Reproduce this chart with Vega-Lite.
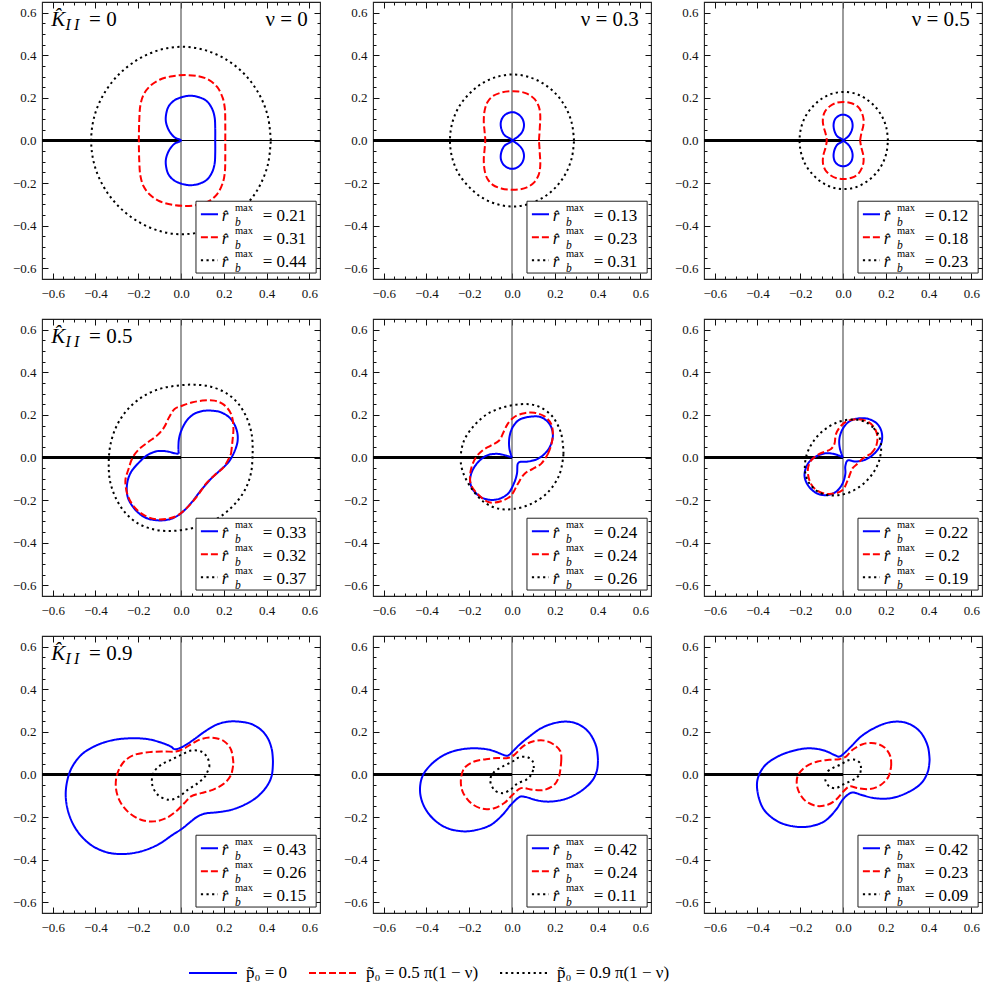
{
  "$schema": "https://vega.github.io/schema/vega-lite/v6.json",
  "padding": {"left": 11, "top": 0, "right": 5, "bottom": 5},
  "background": "white",
  "config": {
    "font": "Liberation Serif, serif",
    "view": {"stroke": "#222", "strokeWidth": 1.1},
    "axis": {"grid": false, "domain": false, "tickColor": "#111", "tickWidth": 1, "labelColor": "#111", "labelFontSize": 13, "labelFont": "Liberation Serif, serif"},
    "legend": {"labelFont": "Liberation Serif, serif"},
    "text": {"font": "Liberation Serif, serif"}
  },
  "data": {"values": [
    {"k":0,"n":0,"s":"a","o":0,"x":0.16,"y":0},{"k":0,"n":0,"s":"a","o":1,"x":0.16,"y":0.06},{"k":0,"n":0,"s":"a","o":2,"x":0.157,"y":0.11},{"k":0,"n":0,"s":"a","o":3,"x":0.145,"y":0.15},{"k":0,"n":0,"s":"a","o":4,"x":0.12,"y":0.185},{"k":0,"n":0,"s":"a","o":5,"x":0.085,"y":0.203},{"k":0,"n":0,"s":"a","o":6,"x":0.045,"y":0.21},{"k":0,"n":0,"s":"a","o":7,"x":0.01,"y":0.205},{"k":0,"n":0,"s":"a","o":8,"x":-0.03,"y":0.189},{"k":0,"n":0,"s":"a","o":9,"x":-0.058,"y":0.16},{"k":0,"n":0,"s":"a","o":10,"x":-0.07,"y":0.12},{"k":0,"n":0,"s":"a","o":11,"x":-0.07,"y":0.085},{"k":0,"n":0,"s":"a","o":12,"x":-0.055,"y":0.045},{"k":0,"n":0,"s":"a","o":13,"x":-0.03,"y":0.015},{"k":0,"n":0,"s":"a","o":14,"x":0,"y":0},{"k":0,"n":0,"s":"a","o":15,"x":-0.03,"y":-0.015},{"k":0,"n":0,"s":"a","o":16,"x":-0.055,"y":-0.045},{"k":0,"n":0,"s":"a","o":17,"x":-0.07,"y":-0.085},{"k":0,"n":0,"s":"a","o":18,"x":-0.07,"y":-0.12},{"k":0,"n":0,"s":"a","o":19,"x":-0.058,"y":-0.16},{"k":0,"n":0,"s":"a","o":20,"x":-0.03,"y":-0.189},{"k":0,"n":0,"s":"a","o":21,"x":0.01,"y":-0.205},{"k":0,"n":0,"s":"a","o":22,"x":0.045,"y":-0.21},{"k":0,"n":0,"s":"a","o":23,"x":0.085,"y":-0.203},{"k":0,"n":0,"s":"a","o":24,"x":0.12,"y":-0.185},{"k":0,"n":0,"s":"a","o":25,"x":0.145,"y":-0.15},{"k":0,"n":0,"s":"a","o":26,"x":0.157,"y":-0.11},{"k":0,"n":0,"s":"a","o":27,"x":0.16,"y":-0.06},{"k":0,"n":0,"s":"a","o":28,"x":0.16,"y":0},
    {"k":0,"n":0,"s":"b","o":0,"x":0.207,"y":0},{"k":0,"n":0,"s":"b","o":1,"x":0.207,"y":0.08},{"k":0,"n":0,"s":"b","o":2,"x":0.205,"y":0.15},{"k":0,"n":0,"s":"b","o":3,"x":0.195,"y":0.2},{"k":0,"n":0,"s":"b","o":4,"x":0.17,"y":0.25},{"k":0,"n":0,"s":"b","o":5,"x":0.13,"y":0.285},{"k":0,"n":0,"s":"b","o":6,"x":0.08,"y":0.302},{"k":0,"n":0,"s":"b","o":7,"x":0.02,"y":0.307},{"k":0,"n":0,"s":"b","o":8,"x":-0.04,"y":0.302},{"k":0,"n":0,"s":"b","o":9,"x":-0.1,"y":0.285},{"k":0,"n":0,"s":"b","o":10,"x":-0.145,"y":0.255},{"k":0,"n":0,"s":"b","o":11,"x":-0.175,"y":0.215},{"k":0,"n":0,"s":"b","o":12,"x":-0.19,"y":0.165},{"k":0,"n":0,"s":"b","o":13,"x":-0.195,"y":0.1},{"k":0,"n":0,"s":"b","o":14,"x":-0.197,"y":0},{"k":0,"n":0,"s":"b","o":15,"x":-0.195,"y":-0.1},{"k":0,"n":0,"s":"b","o":16,"x":-0.19,"y":-0.165},{"k":0,"n":0,"s":"b","o":17,"x":-0.175,"y":-0.215},{"k":0,"n":0,"s":"b","o":18,"x":-0.145,"y":-0.255},{"k":0,"n":0,"s":"b","o":19,"x":-0.1,"y":-0.285},{"k":0,"n":0,"s":"b","o":20,"x":-0.04,"y":-0.302},{"k":0,"n":0,"s":"b","o":21,"x":0.02,"y":-0.307},{"k":0,"n":0,"s":"b","o":22,"x":0.08,"y":-0.302},{"k":0,"n":0,"s":"b","o":23,"x":0.13,"y":-0.285},{"k":0,"n":0,"s":"b","o":24,"x":0.17,"y":-0.25},{"k":0,"n":0,"s":"b","o":25,"x":0.195,"y":-0.2},{"k":0,"n":0,"s":"b","o":26,"x":0.205,"y":-0.15},{"k":0,"n":0,"s":"b","o":27,"x":0.207,"y":-0.08},{"k":0,"n":0,"s":"b","o":28,"x":0.207,"y":0},
    {"k":0,"n":0,"s":"c","o":0,"x":0.42,"y":0},{"k":0,"n":0,"s":"c","o":1,"x":0.406,"y":0.114},{"k":0,"n":0,"s":"c","o":2,"x":0.364,"y":0.22},{"k":0,"n":0,"s":"c","o":3,"x":0.297,"y":0.311},{"k":0,"n":0,"s":"c","o":4,"x":0.21,"y":0.381},{"k":0,"n":0,"s":"c","o":5,"x":0.109,"y":0.425},{"k":0,"n":0,"s":"c","o":6,"x":0.005,"y":0.44},{"k":0,"n":0,"s":"c","o":7,"x":-0.1,"y":0.425},{"k":0,"n":0,"s":"c","o":8,"x":-0.2,"y":0.381},{"k":0,"n":0,"s":"c","o":9,"x":-0.29,"y":0.311},{"k":0,"n":0,"s":"c","o":10,"x":-0.36,"y":0.22},{"k":0,"n":0,"s":"c","o":11,"x":-0.405,"y":0.114},{"k":0,"n":0,"s":"c","o":12,"x":-0.42,"y":0},{"k":0,"n":0,"s":"c","o":13,"x":-0.405,"y":-0.114},{"k":0,"n":0,"s":"c","o":14,"x":-0.36,"y":-0.22},{"k":0,"n":0,"s":"c","o":15,"x":-0.29,"y":-0.311},{"k":0,"n":0,"s":"c","o":16,"x":-0.2,"y":-0.381},{"k":0,"n":0,"s":"c","o":17,"x":-0.1,"y":-0.425},{"k":0,"n":0,"s":"c","o":18,"x":0.005,"y":-0.44},{"k":0,"n":0,"s":"c","o":19,"x":0.109,"y":-0.425},{"k":0,"n":0,"s":"c","o":20,"x":0.21,"y":-0.381},{"k":0,"n":0,"s":"c","o":21,"x":0.297,"y":-0.311},{"k":0,"n":0,"s":"c","o":22,"x":0.364,"y":-0.22},{"k":0,"n":0,"s":"c","o":23,"x":0.406,"y":-0.114},{"k":0,"n":0,"s":"c","o":24,"x":0.42,"y":0},

    {"k":0,"n":0.3,"s":"a","o":0,"x":0,"y":0},{"k":0,"n":0.3,"s":"a","o":1,"x":0.03,"y":0.02},{"k":0,"n":0.3,"s":"a","o":2,"x":0.05,"y":0.045},{"k":0,"n":0.3,"s":"a","o":3,"x":0.056,"y":0.075},{"k":0,"n":0.3,"s":"a","o":4,"x":0.048,"y":0.103},{"k":0,"n":0.3,"s":"a","o":5,"x":0.03,"y":0.123},{"k":0,"n":0.3,"s":"a","o":6,"x":0.005,"y":0.133},{"k":0,"n":0.3,"s":"a","o":7,"x":-0.02,"y":0.128},{"k":0,"n":0.3,"s":"a","o":8,"x":-0.04,"y":0.113},{"k":0,"n":0.3,"s":"a","o":9,"x":-0.052,"y":0.087},{"k":0,"n":0.3,"s":"a","o":10,"x":-0.05,"y":0.055},{"k":0,"n":0.3,"s":"a","o":11,"x":-0.035,"y":0.025},{"k":0,"n":0.3,"s":"a","o":12,"x":0,"y":0},{"k":0,"n":0.3,"s":"a","o":13,"x":-0.035,"y":-0.025},{"k":0,"n":0.3,"s":"a","o":14,"x":-0.05,"y":-0.055},{"k":0,"n":0.3,"s":"a","o":15,"x":-0.052,"y":-0.087},{"k":0,"n":0.3,"s":"a","o":16,"x":-0.04,"y":-0.113},{"k":0,"n":0.3,"s":"a","o":17,"x":-0.02,"y":-0.128},{"k":0,"n":0.3,"s":"a","o":18,"x":0.005,"y":-0.133},{"k":0,"n":0.3,"s":"a","o":19,"x":0.03,"y":-0.123},{"k":0,"n":0.3,"s":"a","o":20,"x":0.048,"y":-0.103},{"k":0,"n":0.3,"s":"a","o":21,"x":0.056,"y":-0.075},{"k":0,"n":0.3,"s":"a","o":22,"x":0.05,"y":-0.045},{"k":0,"n":0.3,"s":"a","o":23,"x":0.03,"y":-0.02},{"k":0,"n":0.3,"s":"a","o":24,"x":0,"y":0},
    {"k":0,"n":0.3,"s":"b","o":0,"x":0.126,"y":0},{"k":0,"n":0.3,"s":"b","o":1,"x":0.13,"y":0.06},{"k":0,"n":0.3,"s":"b","o":2,"x":0.132,"y":0.12},{"k":0,"n":0.3,"s":"b","o":3,"x":0.125,"y":0.16},{"k":0,"n":0.3,"s":"b","o":4,"x":0.105,"y":0.195},{"k":0,"n":0.3,"s":"b","o":5,"x":0.07,"y":0.22},{"k":0,"n":0.3,"s":"b","o":6,"x":0.03,"y":0.23},{"k":0,"n":0.3,"s":"b","o":7,"x":-0.01,"y":0.231},{"k":0,"n":0.3,"s":"b","o":8,"x":-0.05,"y":0.225},{"k":0,"n":0.3,"s":"b","o":9,"x":-0.09,"y":0.208},{"k":0,"n":0.3,"s":"b","o":10,"x":-0.115,"y":0.18},{"k":0,"n":0.3,"s":"b","o":11,"x":-0.128,"y":0.14},{"k":0,"n":0.3,"s":"b","o":12,"x":-0.132,"y":0.09},{"k":0,"n":0.3,"s":"b","o":13,"x":-0.128,"y":0.04},{"k":0,"n":0.3,"s":"b","o":14,"x":-0.125,"y":0},{"k":0,"n":0.3,"s":"b","o":15,"x":-0.128,"y":-0.04},{"k":0,"n":0.3,"s":"b","o":16,"x":-0.132,"y":-0.09},{"k":0,"n":0.3,"s":"b","o":17,"x":-0.128,"y":-0.14},{"k":0,"n":0.3,"s":"b","o":18,"x":-0.115,"y":-0.18},{"k":0,"n":0.3,"s":"b","o":19,"x":-0.09,"y":-0.208},{"k":0,"n":0.3,"s":"b","o":20,"x":-0.05,"y":-0.225},{"k":0,"n":0.3,"s":"b","o":21,"x":-0.01,"y":-0.231},{"k":0,"n":0.3,"s":"b","o":22,"x":0.03,"y":-0.23},{"k":0,"n":0.3,"s":"b","o":23,"x":0.07,"y":-0.22},{"k":0,"n":0.3,"s":"b","o":24,"x":0.105,"y":-0.195},{"k":0,"n":0.3,"s":"b","o":25,"x":0.125,"y":-0.16},{"k":0,"n":0.3,"s":"b","o":26,"x":0.132,"y":-0.12},{"k":0,"n":0.3,"s":"b","o":27,"x":0.13,"y":-0.06},{"k":0,"n":0.3,"s":"b","o":28,"x":0.126,"y":0},
    {"k":0,"n":0.3,"s":"c","o":0,"x":0.29,"y":0},{"k":0,"n":0.3,"s":"c","o":1,"x":0.28,"y":0.08},{"k":0,"n":0.3,"s":"c","o":2,"x":0.251,"y":0.155},{"k":0,"n":0.3,"s":"c","o":3,"x":0.205,"y":0.219},{"k":0,"n":0.3,"s":"c","o":4,"x":0.145,"y":0.268},{"k":0,"n":0.3,"s":"c","o":5,"x":0.075,"y":0.299},{"k":0,"n":0.3,"s":"c","o":6,"x":0.005,"y":0.31},{"k":0,"n":0.3,"s":"c","o":7,"x":-0.07,"y":0.299},{"k":0,"n":0.3,"s":"c","o":8,"x":-0.14,"y":0.268},{"k":0,"n":0.3,"s":"c","o":9,"x":-0.2,"y":0.219},{"k":0,"n":0.3,"s":"c","o":10,"x":-0.25,"y":0.155},{"k":0,"n":0.3,"s":"c","o":11,"x":-0.28,"y":0.08},{"k":0,"n":0.3,"s":"c","o":12,"x":-0.29,"y":0},{"k":0,"n":0.3,"s":"c","o":13,"x":-0.28,"y":-0.08},{"k":0,"n":0.3,"s":"c","o":14,"x":-0.25,"y":-0.155},{"k":0,"n":0.3,"s":"c","o":15,"x":-0.2,"y":-0.219},{"k":0,"n":0.3,"s":"c","o":16,"x":-0.14,"y":-0.268},{"k":0,"n":0.3,"s":"c","o":17,"x":-0.07,"y":-0.299},{"k":0,"n":0.3,"s":"c","o":18,"x":0.005,"y":-0.31},{"k":0,"n":0.3,"s":"c","o":19,"x":0.075,"y":-0.299},{"k":0,"n":0.3,"s":"c","o":20,"x":0.145,"y":-0.268},{"k":0,"n":0.3,"s":"c","o":21,"x":0.205,"y":-0.219},{"k":0,"n":0.3,"s":"c","o":22,"x":0.251,"y":-0.155},{"k":0,"n":0.3,"s":"c","o":23,"x":0.28,"y":-0.08},{"k":0,"n":0.3,"s":"c","o":24,"x":0.29,"y":0},

    {"k":0,"n":0.5,"s":"a","o":0,"x":0,"y":0},{"k":0,"n":0.5,"s":"a","o":1,"x":0.025,"y":0.02},{"k":0,"n":0.5,"s":"a","o":2,"x":0.04,"y":0.045},{"k":0,"n":0.5,"s":"a","o":3,"x":0.045,"y":0.07},{"k":0,"n":0.5,"s":"a","o":4,"x":0.04,"y":0.095},{"k":0,"n":0.5,"s":"a","o":5,"x":0.025,"y":0.113},{"k":0,"n":0.5,"s":"a","o":6,"x":0.003,"y":0.121},{"k":0,"n":0.5,"s":"a","o":7,"x":-0.02,"y":0.116},{"k":0,"n":0.5,"s":"a","o":8,"x":-0.037,"y":0.1},{"k":0,"n":0.5,"s":"a","o":9,"x":-0.044,"y":0.075},{"k":0,"n":0.5,"s":"a","o":10,"x":-0.04,"y":0.045},{"k":0,"n":0.5,"s":"a","o":11,"x":-0.027,"y":0.02},{"k":0,"n":0.5,"s":"a","o":12,"x":0,"y":0},{"k":0,"n":0.5,"s":"a","o":13,"x":-0.027,"y":-0.02},{"k":0,"n":0.5,"s":"a","o":14,"x":-0.04,"y":-0.045},{"k":0,"n":0.5,"s":"a","o":15,"x":-0.044,"y":-0.075},{"k":0,"n":0.5,"s":"a","o":16,"x":-0.037,"y":-0.1},{"k":0,"n":0.5,"s":"a","o":17,"x":-0.02,"y":-0.116},{"k":0,"n":0.5,"s":"a","o":18,"x":0.003,"y":-0.121},{"k":0,"n":0.5,"s":"a","o":19,"x":0.025,"y":-0.113},{"k":0,"n":0.5,"s":"a","o":20,"x":0.04,"y":-0.095},{"k":0,"n":0.5,"s":"a","o":21,"x":0.045,"y":-0.07},{"k":0,"n":0.5,"s":"a","o":22,"x":0.04,"y":-0.045},{"k":0,"n":0.5,"s":"a","o":23,"x":0.025,"y":-0.02},{"k":0,"n":0.5,"s":"a","o":24,"x":0,"y":0},
    {"k":0,"n":0.5,"s":"b","o":0,"x":0.08,"y":0},{"k":0,"n":0.5,"s":"b","o":1,"x":0.085,"y":0.03},{"k":0,"n":0.5,"s":"b","o":2,"x":0.095,"y":0.07},{"k":0,"n":0.5,"s":"b","o":3,"x":0.096,"y":0.1},{"k":0,"n":0.5,"s":"b","o":4,"x":0.088,"y":0.13},{"k":0,"n":0.5,"s":"b","o":5,"x":0.07,"y":0.158},{"k":0,"n":0.5,"s":"b","o":6,"x":0.04,"y":0.175},{"k":0,"n":0.5,"s":"b","o":7,"x":0.005,"y":0.181},{"k":0,"n":0.5,"s":"b","o":8,"x":-0.03,"y":0.177},{"k":0,"n":0.5,"s":"b","o":9,"x":-0.06,"y":0.162},{"k":0,"n":0.5,"s":"b","o":10,"x":-0.083,"y":0.138},{"k":0,"n":0.5,"s":"b","o":11,"x":-0.094,"y":0.105},{"k":0,"n":0.5,"s":"b","o":12,"x":-0.092,"y":0.07},{"k":0,"n":0.5,"s":"b","o":13,"x":-0.082,"y":0.035},{"k":0,"n":0.5,"s":"b","o":14,"x":-0.076,"y":0},{"k":0,"n":0.5,"s":"b","o":15,"x":-0.082,"y":-0.035},{"k":0,"n":0.5,"s":"b","o":16,"x":-0.092,"y":-0.07},{"k":0,"n":0.5,"s":"b","o":17,"x":-0.094,"y":-0.105},{"k":0,"n":0.5,"s":"b","o":18,"x":-0.083,"y":-0.138},{"k":0,"n":0.5,"s":"b","o":19,"x":-0.06,"y":-0.162},{"k":0,"n":0.5,"s":"b","o":20,"x":-0.03,"y":-0.177},{"k":0,"n":0.5,"s":"b","o":21,"x":0.005,"y":-0.181},{"k":0,"n":0.5,"s":"b","o":22,"x":0.04,"y":-0.175},{"k":0,"n":0.5,"s":"b","o":23,"x":0.07,"y":-0.158},{"k":0,"n":0.5,"s":"b","o":24,"x":0.088,"y":-0.13},{"k":0,"n":0.5,"s":"b","o":25,"x":0.096,"y":-0.1},{"k":0,"n":0.5,"s":"b","o":26,"x":0.095,"y":-0.07},{"k":0,"n":0.5,"s":"b","o":27,"x":0.085,"y":-0.03},{"k":0,"n":0.5,"s":"b","o":28,"x":0.08,"y":0},
    {"k":0,"n":0.5,"s":"c","o":0,"x":0.21,"y":0},{"k":0,"n":0.5,"s":"c","o":1,"x":0.203,"y":0.059},{"k":0,"n":0.5,"s":"c","o":2,"x":0.182,"y":0.114},{"k":0,"n":0.5,"s":"c","o":3,"x":0.148,"y":0.161},{"k":0,"n":0.5,"s":"c","o":4,"x":0.105,"y":0.197},{"k":0,"n":0.5,"s":"c","o":5,"x":0.058,"y":0.22},{"k":0,"n":0.5,"s":"c","o":6,"x":0.005,"y":0.228},{"k":0,"n":0.5,"s":"c","o":7,"x":-0.05,"y":0.22},{"k":0,"n":0.5,"s":"c","o":8,"x":-0.098,"y":0.197},{"k":0,"n":0.5,"s":"c","o":9,"x":-0.14,"y":0.161},{"k":0,"n":0.5,"s":"c","o":10,"x":-0.175,"y":0.114},{"k":0,"n":0.5,"s":"c","o":11,"x":-0.196,"y":0.059},{"k":0,"n":0.5,"s":"c","o":12,"x":-0.203,"y":0},{"k":0,"n":0.5,"s":"c","o":13,"x":-0.196,"y":-0.059},{"k":0,"n":0.5,"s":"c","o":14,"x":-0.175,"y":-0.114},{"k":0,"n":0.5,"s":"c","o":15,"x":-0.14,"y":-0.161},{"k":0,"n":0.5,"s":"c","o":16,"x":-0.098,"y":-0.197},{"k":0,"n":0.5,"s":"c","o":17,"x":-0.05,"y":-0.22},{"k":0,"n":0.5,"s":"c","o":18,"x":0.005,"y":-0.228},{"k":0,"n":0.5,"s":"c","o":19,"x":0.058,"y":-0.22},{"k":0,"n":0.5,"s":"c","o":20,"x":0.105,"y":-0.197},{"k":0,"n":0.5,"s":"c","o":21,"x":0.148,"y":-0.161},{"k":0,"n":0.5,"s":"c","o":22,"x":0.182,"y":-0.114},{"k":0,"n":0.5,"s":"c","o":23,"x":0.203,"y":-0.059},{"k":0,"n":0.5,"s":"c","o":24,"x":0.21,"y":0},

    {"k":0.5,"n":0,"s":"a","o":0,"x":-0.011,"y":0.017},{"k":0.5,"n":0,"s":"a","o":1,"x":-0.012,"y":0.05},{"k":0.5,"n":0,"s":"a","o":2,"x":-0.009,"y":0.09},{"k":0.5,"n":0,"s":"a","o":3,"x":0.003,"y":0.13},{"k":0.5,"n":0,"s":"a","o":4,"x":0.028,"y":0.175},{"k":0.5,"n":0,"s":"a","o":5,"x":0.062,"y":0.205},{"k":0.5,"n":0,"s":"a","o":6,"x":0.1,"y":0.218},{"k":0.5,"n":0,"s":"a","o":7,"x":0.14,"y":0.22},{"k":0.5,"n":0,"s":"a","o":8,"x":0.187,"y":0.212},{"k":0.5,"n":0,"s":"a","o":9,"x":0.232,"y":0.182},{"k":0.5,"n":0,"s":"a","o":10,"x":0.26,"y":0.13},{"k":0.5,"n":0,"s":"a","o":11,"x":0.265,"y":0.08},{"k":0.5,"n":0,"s":"a","o":12,"x":0.25,"y":0.028},{"k":0.5,"n":0,"s":"a","o":13,"x":0.222,"y":-0.022},{"k":0.5,"n":0,"s":"a","o":14,"x":0.183,"y":-0.06},{"k":0.5,"n":0,"s":"a","o":15,"x":0.14,"y":-0.1},{"k":0.5,"n":0,"s":"a","o":16,"x":0.095,"y":-0.152},{"k":0.5,"n":0,"s":"a","o":17,"x":0.05,"y":-0.21},{"k":0.5,"n":0,"s":"a","o":18,"x":0,"y":-0.262},{"k":0.5,"n":0,"s":"a","o":19,"x":-0.047,"y":-0.288},{"k":0.5,"n":0,"s":"a","o":20,"x":-0.109,"y":-0.295},{"k":0.5,"n":0,"s":"a","o":21,"x":-0.171,"y":-0.28},{"k":0.5,"n":0,"s":"a","o":22,"x":-0.218,"y":-0.24},{"k":0.5,"n":0,"s":"a","o":23,"x":-0.249,"y":-0.186},{"k":0.5,"n":0,"s":"a","o":24,"x":-0.252,"y":-0.123},{"k":0.5,"n":0,"s":"a","o":25,"x":-0.234,"y":-0.069},{"k":0.5,"n":0,"s":"a","o":26,"x":-0.195,"y":-0.022},{"k":0.5,"n":0,"s":"a","o":27,"x":-0.156,"y":0.012},{"k":0.5,"n":0,"s":"a","o":28,"x":-0.109,"y":0.03},{"k":0.5,"n":0,"s":"a","o":29,"x":-0.062,"y":0.028},{"k":0.5,"n":0,"s":"a","o":30,"x":-0.03,"y":0.02},{"k":0.5,"n":0,"s":"a","o":31,"x":-0.011,"y":0.017},
    {"k":0.5,"n":0,"s":"b","o":0,"x":0.234,"y":0.017},{"k":0.5,"n":0,"s":"b","o":1,"x":0.241,"y":0.08},{"k":0.5,"n":0,"s":"b","o":2,"x":0.245,"y":0.142},{"k":0.5,"n":0,"s":"b","o":3,"x":0.234,"y":0.205},{"k":0.5,"n":0,"s":"b","o":4,"x":0.2,"y":0.248},{"k":0.5,"n":0,"s":"b","o":5,"x":0.156,"y":0.267},{"k":0.5,"n":0,"s":"b","o":6,"x":0.1,"y":0.267},{"k":0.5,"n":0,"s":"b","o":7,"x":0.05,"y":0.258},{"k":0.5,"n":0,"s":"b","o":8,"x":0.005,"y":0.243},{"k":0.5,"n":0,"s":"b","o":9,"x":-0.03,"y":0.228},{"k":0.5,"n":0,"s":"b","o":10,"x":-0.055,"y":0.19},{"k":0.5,"n":0,"s":"b","o":11,"x":-0.08,"y":0.14},{"k":0.5,"n":0,"s":"b","o":12,"x":-0.11,"y":0.105},{"k":0.5,"n":0,"s":"b","o":13,"x":-0.15,"y":0.075},{"k":0.5,"n":0,"s":"b","o":14,"x":-0.195,"y":0.04},{"k":0.5,"n":0,"s":"b","o":15,"x":-0.226,"y":0},{"k":0.5,"n":0,"s":"b","o":16,"x":-0.245,"y":-0.053},{"k":0.5,"n":0,"s":"b","o":17,"x":-0.26,"y":-0.108},{"k":0.5,"n":0,"s":"b","o":18,"x":-0.249,"y":-0.178},{"k":0.5,"n":0,"s":"b","o":19,"x":-0.218,"y":-0.233},{"k":0.5,"n":0,"s":"b","o":20,"x":-0.171,"y":-0.272},{"k":0.5,"n":0,"s":"b","o":21,"x":-0.117,"y":-0.29},{"k":0.5,"n":0,"s":"b","o":22,"x":-0.062,"y":-0.2875},{"k":0.5,"n":0,"s":"b","o":23,"x":-0.016,"y":-0.272},{"k":0.5,"n":0,"s":"b","o":24,"x":0.031,"y":-0.233},{"k":0.5,"n":0,"s":"b","o":25,"x":0.078,"y":-0.178},{"k":0.5,"n":0,"s":"b","o":26,"x":0.117,"y":-0.123},{"k":0.5,"n":0,"s":"b","o":27,"x":0.156,"y":-0.084},{"k":0.5,"n":0,"s":"b","o":28,"x":0.2,"y":-0.045},{"k":0.5,"n":0,"s":"b","o":29,"x":0.234,"y":0.017},
    {"k":0.5,"n":0,"s":"c","o":0,"x":0.335,"y":0.02},{"k":0.5,"n":0,"s":"c","o":1,"x":0.332,"y":0.1},{"k":0.5,"n":0,"s":"c","o":2,"x":0.31,"y":0.18},{"k":0.5,"n":0,"s":"c","o":3,"x":0.27,"y":0.25},{"k":0.5,"n":0,"s":"c","o":4,"x":0.215,"y":0.3},{"k":0.5,"n":0,"s":"c","o":5,"x":0.14,"y":0.332},{"k":0.5,"n":0,"s":"c","o":6,"x":0.06,"y":0.342},{"k":0.5,"n":0,"s":"c","o":7,"x":-0.02,"y":0.337},{"k":0.5,"n":0,"s":"c","o":8,"x":-0.1,"y":0.322},{"k":0.5,"n":0,"s":"c","o":9,"x":-0.18,"y":0.285},{"k":0.5,"n":0,"s":"c","o":10,"x":-0.25,"y":0.225},{"k":0.5,"n":0,"s":"c","o":11,"x":-0.3,"y":0.15},{"k":0.5,"n":0,"s":"c","o":12,"x":-0.33,"y":0.06},{"k":0.5,"n":0,"s":"c","o":13,"x":-0.338,"y":-0.03},{"k":0.5,"n":0,"s":"c","o":14,"x":-0.332,"y":-0.11},{"k":0.5,"n":0,"s":"c","o":15,"x":-0.305,"y":-0.19},{"k":0.5,"n":0,"s":"c","o":16,"x":-0.26,"y":-0.26},{"k":0.5,"n":0,"s":"c","o":17,"x":-0.2,"y":-0.31},{"k":0.5,"n":0,"s":"c","o":18,"x":-0.13,"y":-0.337},{"k":0.5,"n":0,"s":"c","o":19,"x":-0.055,"y":-0.345},{"k":0.5,"n":0,"s":"c","o":20,"x":0.02,"y":-0.338},{"k":0.5,"n":0,"s":"c","o":21,"x":0.1,"y":-0.318},{"k":0.5,"n":0,"s":"c","o":22,"x":0.18,"y":-0.28},{"k":0.5,"n":0,"s":"c","o":23,"x":0.25,"y":-0.22},{"k":0.5,"n":0,"s":"c","o":24,"x":0.3,"y":-0.15},{"k":0.5,"n":0,"s":"c","o":25,"x":0.328,"y":-0.07},{"k":0.5,"n":0,"s":"c","o":26,"x":0.335,"y":0.02},

    {"k":0.5,"n":0.3,"s":"a","o":0,"x":0,"y":0},{"k":0.5,"n":0.3,"s":"a","o":1,"x":-0.012,"y":0.04},{"k":0.5,"n":0.3,"s":"a","o":2,"x":-0.012,"y":0.095},{"k":0.5,"n":0.3,"s":"a","o":3,"x":0.003,"y":0.142},{"k":0.5,"n":0.3,"s":"a","o":4,"x":0.034,"y":0.177},{"k":0.5,"n":0.3,"s":"a","o":5,"x":0.089,"y":0.192},{"k":0.5,"n":0.3,"s":"a","o":6,"x":0.136,"y":0.189},{"k":0.5,"n":0.3,"s":"a","o":7,"x":0.175,"y":0.158},{"k":0.5,"n":0.3,"s":"a","o":8,"x":0.191,"y":0.111},{"k":0.5,"n":0.3,"s":"a","o":9,"x":0.183,"y":0.064},{"k":0.5,"n":0.3,"s":"a","o":10,"x":0.16,"y":0.025},{"k":0.5,"n":0.3,"s":"a","o":11,"x":0.121,"y":-0.006},{"k":0.5,"n":0.3,"s":"a","o":12,"x":0.074,"y":-0.019},{"k":0.5,"n":0.3,"s":"a","o":13,"x":0.034,"y":-0.022},{"k":0.5,"n":0.3,"s":"a","o":14,"x":0.027,"y":-0.03},{"k":0.5,"n":0.3,"s":"a","o":15,"x":0.023,"y":-0.077},{"k":0.5,"n":0.3,"s":"a","o":16,"x":0.008,"y":-0.124},{"k":0.5,"n":0.3,"s":"a","o":17,"x":-0.02,"y":-0.171},{"k":0.5,"n":0.3,"s":"a","o":18,"x":-0.06,"y":-0.194},{"k":0.5,"n":0.3,"s":"a","o":19,"x":-0.099,"y":-0.199},{"k":0.5,"n":0.3,"s":"a","o":20,"x":-0.146,"y":-0.186},{"k":0.5,"n":0.3,"s":"a","o":21,"x":-0.185,"y":-0.147},{"k":0.5,"n":0.3,"s":"a","o":22,"x":-0.196,"y":-0.108},{"k":0.5,"n":0.3,"s":"a","o":23,"x":-0.185,"y":-0.061},{"k":0.5,"n":0.3,"s":"a","o":24,"x":-0.154,"y":-0.017},{"k":0.5,"n":0.3,"s":"a","o":25,"x":-0.114,"y":0.011},{"k":0.5,"n":0.3,"s":"a","o":26,"x":-0.067,"y":0.017},{"k":0.5,"n":0.3,"s":"a","o":27,"x":-0.028,"y":0.009},{"k":0.5,"n":0.3,"s":"a","o":28,"x":0,"y":0},
    {"k":0.5,"n":0.3,"s":"b","o":0,"x":0.168,"y":0.017},{"k":0.5,"n":0.3,"s":"b","o":1,"x":0.183,"y":0.056},{"k":0.5,"n":0.3,"s":"b","o":2,"x":0.191,"y":0.111},{"k":0.5,"n":0.3,"s":"b","o":3,"x":0.183,"y":0.158},{"k":0.5,"n":0.3,"s":"b","o":4,"x":0.152,"y":0.193},{"k":0.5,"n":0.3,"s":"b","o":5,"x":0.105,"y":0.21},{"k":0.5,"n":0.3,"s":"b","o":6,"x":0.058,"y":0.208},{"k":0.5,"n":0.3,"s":"b","o":7,"x":0.011,"y":0.19},{"k":0.5,"n":0.3,"s":"b","o":8,"x":-0.02,"y":0.158},{"k":0.5,"n":0.3,"s":"b","o":9,"x":-0.036,"y":0.127},{"k":0.5,"n":0.3,"s":"b","o":10,"x":-0.06,"y":0.08},{"k":0.5,"n":0.3,"s":"b","o":11,"x":-0.099,"y":0.056},{"k":0.5,"n":0.3,"s":"b","o":12,"x":-0.138,"y":0.033},{"k":0.5,"n":0.3,"s":"b","o":13,"x":-0.169,"y":0},{"k":0.5,"n":0.3,"s":"b","o":14,"x":-0.193,"y":-0.061},{"k":0.5,"n":0.3,"s":"b","o":15,"x":-0.193,"y":-0.124},{"k":0.5,"n":0.3,"s":"b","o":16,"x":-0.161,"y":-0.171},{"k":0.5,"n":0.3,"s":"b","o":17,"x":-0.107,"y":-0.21},{"k":0.5,"n":0.3,"s":"b","o":18,"x":-0.052,"y":-0.205},{"k":0.5,"n":0.3,"s":"b","o":19,"x":-0.005,"y":-0.179},{"k":0.5,"n":0.3,"s":"b","o":20,"x":0.027,"y":-0.124},{"k":0.5,"n":0.3,"s":"b","o":21,"x":0.058,"y":-0.077},{"k":0.5,"n":0.3,"s":"b","o":22,"x":0.097,"y":-0.053},{"k":0.5,"n":0.3,"s":"b","o":23,"x":0.136,"y":-0.03},{"k":0.5,"n":0.3,"s":"b","o":24,"x":0.168,"y":0.017},
    {"k":0.5,"n":0.3,"s":"c","o":0,"x":0.241,"y":0.017},{"k":0.5,"n":0.3,"s":"c","o":1,"x":0.23,"y":0.111},{"k":0.5,"n":0.3,"s":"c","o":2,"x":0.191,"y":0.19},{"k":0.5,"n":0.3,"s":"c","o":3,"x":0.136,"y":0.234},{"k":0.5,"n":0.3,"s":"c","o":4,"x":0.089,"y":0.249},{"k":0.5,"n":0.3,"s":"c","o":5,"x":0.04,"y":0.25},{"k":0.5,"n":0.3,"s":"c","o":6,"x":-0.036,"y":0.237},{"k":0.5,"n":0.3,"s":"c","o":7,"x":-0.114,"y":0.205},{"k":0.5,"n":0.3,"s":"c","o":8,"x":-0.177,"y":0.15},{"k":0.5,"n":0.3,"s":"c","o":9,"x":-0.224,"y":0.08},{"k":0.5,"n":0.3,"s":"c","o":10,"x":-0.24,"y":0},{"k":0.5,"n":0.3,"s":"c","o":11,"x":-0.232,"y":-0.061},{"k":0.5,"n":0.3,"s":"c","o":12,"x":-0.193,"y":-0.14},{"k":0.5,"n":0.3,"s":"c","o":13,"x":-0.13,"y":-0.21},{"k":0.5,"n":0.3,"s":"c","o":14,"x":-0.06,"y":-0.241},{"k":0.5,"n":0.3,"s":"c","o":15,"x":0.011,"y":-0.241},{"k":0.5,"n":0.3,"s":"c","o":16,"x":0.089,"y":-0.218},{"k":0.5,"n":0.3,"s":"c","o":17,"x":0.168,"y":-0.163},{"k":0.5,"n":0.3,"s":"c","o":18,"x":0.223,"y":-0.077},{"k":0.5,"n":0.3,"s":"c","o":19,"x":0.241,"y":0.017},

    {"k":0.5,"n":0.5,"s":"a","o":0,"x":0,"y":0},{"k":0.5,"n":0.5,"s":"a","o":1,"x":-0.014,"y":0.04},{"k":0.5,"n":0.5,"s":"a","o":2,"x":-0.017,"y":0.087},{"k":0.5,"n":0.5,"s":"a","o":3,"x":-0.002,"y":0.133},{"k":0.5,"n":0.5,"s":"a","o":4,"x":0.029,"y":0.169},{"k":0.5,"n":0.5,"s":"a","o":5,"x":0.076,"y":0.184},{"k":0.5,"n":0.5,"s":"a","o":6,"x":0.122,"y":0.18},{"k":0.5,"n":0.5,"s":"a","o":7,"x":0.161,"y":0.157},{"k":0.5,"n":0.5,"s":"a","o":8,"x":0.181,"y":0.118},{"k":0.5,"n":0.5,"s":"a","o":9,"x":0.18,"y":0.071},{"k":0.5,"n":0.5,"s":"a","o":10,"x":0.153,"y":0.025},{"k":0.5,"n":0.5,"s":"a","o":11,"x":0.107,"y":-0.009},{"k":0.5,"n":0.5,"s":"a","o":12,"x":0.06,"y":-0.019},{"k":0.5,"n":0.5,"s":"a","o":13,"x":0.022,"y":-0.014},{"k":0.5,"n":0.5,"s":"a","o":14,"x":0.011,"y":-0.04},{"k":0.5,"n":0.5,"s":"a","o":15,"x":0.011,"y":-0.076},{"k":0.5,"n":0.5,"s":"a","o":16,"x":-0.002,"y":-0.122},{"k":0.5,"n":0.5,"s":"a","o":17,"x":-0.033,"y":-0.161},{"k":0.5,"n":0.5,"s":"a","o":18,"x":-0.079,"y":-0.177},{"k":0.5,"n":0.5,"s":"a","o":19,"x":-0.126,"y":-0.166},{"k":0.5,"n":0.5,"s":"a","o":20,"x":-0.164,"y":-0.13},{"k":0.5,"n":0.5,"s":"a","o":21,"x":-0.18,"y":-0.084},{"k":0.5,"n":0.5,"s":"a","o":22,"x":-0.164,"y":-0.029},{"k":0.5,"n":0.5,"s":"a","o":23,"x":-0.126,"y":0.005},{"k":0.5,"n":0.5,"s":"a","o":24,"x":-0.079,"y":0.02},{"k":0.5,"n":0.5,"s":"a","o":25,"x":-0.033,"y":0.014},{"k":0.5,"n":0.5,"s":"a","o":26,"x":0,"y":0},
    {"k":0.5,"n":0.5,"s":"b","o":0,"x":0.13,"y":0.017},{"k":0.5,"n":0.5,"s":"b","o":1,"x":0.153,"y":0.048},{"k":0.5,"n":0.5,"s":"b","o":2,"x":0.161,"y":0.095},{"k":0.5,"n":0.5,"s":"b","o":3,"x":0.146,"y":0.141},{"k":0.5,"n":0.5,"s":"b","o":4,"x":0.115,"y":0.169},{"k":0.5,"n":0.5,"s":"b","o":5,"x":0.068,"y":0.18},{"k":0.5,"n":0.5,"s":"b","o":6,"x":0.022,"y":0.172},{"k":0.5,"n":0.5,"s":"b","o":7,"x":-0.009,"y":0.149},{"k":0.5,"n":0.5,"s":"b","o":8,"x":-0.033,"y":0.11},{"k":0.5,"n":0.5,"s":"b","o":9,"x":-0.04,"y":0.064},{"k":0.5,"n":0.5,"s":"b","o":10,"x":-0.056,"y":0.04},{"k":0.5,"n":0.5,"s":"b","o":11,"x":-0.11,"y":0.017},{"k":0.5,"n":0.5,"s":"b","o":12,"x":-0.149,"y":-0.014},{"k":0.5,"n":0.5,"s":"b","o":13,"x":-0.164,"y":-0.053},{"k":0.5,"n":0.5,"s":"b","o":14,"x":-0.157,"y":-0.107},{"k":0.5,"n":0.5,"s":"b","o":15,"x":-0.133,"y":-0.146},{"k":0.5,"n":0.5,"s":"b","o":16,"x":-0.087,"y":-0.169},{"k":0.5,"n":0.5,"s":"b","o":17,"x":-0.04,"y":-0.169},{"k":0.5,"n":0.5,"s":"b","o":18,"x":-0.002,"y":-0.153},{"k":0.5,"n":0.5,"s":"b","o":19,"x":0.022,"y":-0.107},{"k":0.5,"n":0.5,"s":"b","o":20,"x":0.045,"y":-0.05},{"k":0.5,"n":0.5,"s":"b","o":21,"x":0.068,"y":-0.029},{"k":0.5,"n":0.5,"s":"b","o":22,"x":0.091,"y":-0.006},{"k":0.5,"n":0.5,"s":"b","o":23,"x":0.13,"y":0.017},
    {"k":0.5,"n":0.5,"s":"c","o":0,"x":0.141,"y":0.141},{"k":0.5,"n":0.5,"s":"c","o":1,"x":0.108,"y":0.165},{"k":0.5,"n":0.5,"s":"c","o":2,"x":0.0675,"y":0.177},{"k":0.5,"n":0.5,"s":"c","o":3,"x":0.022,"y":0.177},{"k":0.5,"n":0.5,"s":"c","o":4,"x":-0.024,"y":0.166},{"k":0.5,"n":0.5,"s":"c","o":5,"x":-0.069,"y":0.143},{"k":0.5,"n":0.5,"s":"c","o":6,"x":-0.11,"y":0.11},{"k":0.5,"n":0.5,"s":"c","o":7,"x":-0.143,"y":0.069},{"k":0.5,"n":0.5,"s":"c","o":8,"x":-0.166,"y":0.024},{"k":0.5,"n":0.5,"s":"c","o":9,"x":-0.177,"y":-0.022},{"k":0.5,"n":0.5,"s":"c","o":10,"x":-0.177,"y":-0.0675},{"k":0.5,"n":0.5,"s":"c","o":11,"x":-0.165,"y":-0.108},{"k":0.5,"n":0.5,"s":"c","o":12,"x":-0.141,"y":-0.141},{"k":0.5,"n":0.5,"s":"c","o":13,"x":-0.108,"y":-0.165},{"k":0.5,"n":0.5,"s":"c","o":14,"x":-0.0675,"y":-0.177},{"k":0.5,"n":0.5,"s":"c","o":15,"x":-0.022,"y":-0.177},{"k":0.5,"n":0.5,"s":"c","o":16,"x":0.024,"y":-0.166},{"k":0.5,"n":0.5,"s":"c","o":17,"x":0.069,"y":-0.143},{"k":0.5,"n":0.5,"s":"c","o":18,"x":0.11,"y":-0.11},{"k":0.5,"n":0.5,"s":"c","o":19,"x":0.143,"y":-0.069},{"k":0.5,"n":0.5,"s":"c","o":20,"x":0.166,"y":-0.024},{"k":0.5,"n":0.5,"s":"c","o":21,"x":0.177,"y":0.022},{"k":0.5,"n":0.5,"s":"c","o":22,"x":0.177,"y":0.0675},{"k":0.5,"n":0.5,"s":"c","o":23,"x":0.165,"y":0.108},{"k":0.5,"n":0.5,"s":"c","o":24,"x":0.141,"y":0.141},

    {"k":0.9,"n":0,"s":"a","o":0,"x":0.43,"y":0.061},{"k":0.9,"n":0,"s":"a","o":1,"x":0.425,"y":0.116},{"k":0.9,"n":0,"s":"a","o":2,"x":0.406,"y":0.17},{"k":0.9,"n":0,"s":"a","o":3,"x":0.375,"y":0.209},{"k":0.9,"n":0,"s":"a","o":4,"x":0.328,"y":0.2375},{"k":0.9,"n":0,"s":"a","o":5,"x":0.273,"y":0.248},{"k":0.9,"n":0,"s":"a","o":6,"x":0.219,"y":0.248},{"k":0.9,"n":0,"s":"a","o":7,"x":0.164,"y":0.233},{"k":0.9,"n":0,"s":"a","o":8,"x":0.109,"y":0.2},{"k":0.9,"n":0,"s":"a","o":9,"x":0.0625,"y":0.166},{"k":0.9,"n":0,"s":"a","o":10,"x":0.023,"y":0.139},{"k":0.9,"n":0,"s":"a","o":11,"x":-0.008,"y":0.123},{"k":0.9,"n":0,"s":"a","o":12,"x":-0.031,"y":0.119},{"k":0.9,"n":0,"s":"a","o":13,"x":-0.047,"y":0.131},{"k":0.9,"n":0,"s":"a","o":14,"x":-0.094,"y":0.15},{"k":0.9,"n":0,"s":"a","o":15,"x":-0.156,"y":0.166},{"k":0.9,"n":0,"s":"a","o":16,"x":-0.234,"y":0.17},{"k":0.9,"n":0,"s":"a","o":17,"x":-0.3125,"y":0.1625},{"k":0.9,"n":0,"s":"a","o":18,"x":-0.39,"y":0.139},{"k":0.9,"n":0,"s":"a","o":19,"x":-0.461,"y":0.097},{"k":0.9,"n":0,"s":"a","o":20,"x":-0.508,"y":0.0375},{"k":0.9,"n":0,"s":"a","o":21,"x":-0.531,"y":-0.025},{"k":0.9,"n":0,"s":"a","o":22,"x":-0.539,"y":-0.103},{"k":0.9,"n":0,"s":"a","o":23,"x":-0.523,"y":-0.189},{"k":0.9,"n":0,"s":"a","o":24,"x":-0.484,"y":-0.267},{"k":0.9,"n":0,"s":"a","o":25,"x":-0.422,"y":-0.33},{"k":0.9,"n":0,"s":"a","o":26,"x":-0.344,"y":-0.366},{"k":0.9,"n":0,"s":"a","o":27,"x":-0.266,"y":-0.373},{"k":0.9,"n":0,"s":"a","o":28,"x":-0.1875,"y":-0.361},{"k":0.9,"n":0,"s":"a","o":29,"x":-0.109,"y":-0.33},{"k":0.9,"n":0,"s":"a","o":30,"x":-0.039,"y":-0.283},{"k":0.9,"n":0,"s":"a","o":31,"x":0.008,"y":-0.252},{"k":0.9,"n":0,"s":"a","o":32,"x":0.047,"y":-0.22},{"k":0.9,"n":0,"s":"a","o":33,"x":0.078,"y":-0.197},{"k":0.9,"n":0,"s":"a","o":34,"x":0.109,"y":-0.184},{"k":0.9,"n":0,"s":"a","o":35,"x":0.172,"y":-0.177},{"k":0.9,"n":0,"s":"a","o":36,"x":0.234,"y":-0.166},{"k":0.9,"n":0,"s":"a","o":37,"x":0.297,"y":-0.142},{"k":0.9,"n":0,"s":"a","o":38,"x":0.359,"y":-0.103},{"k":0.9,"n":0,"s":"a","o":39,"x":0.406,"y":-0.048},{"k":0.9,"n":0,"s":"a","o":40,"x":0.425,"y":-0.002},{"k":0.9,"n":0,"s":"a","o":41,"x":0.43,"y":0.061},
    {"k":0.9,"n":0,"s":"b","o":0,"x":0.245,"y":0.053},{"k":0.9,"n":0,"s":"b","o":1,"x":0.234,"y":0.116},{"k":0.9,"n":0,"s":"b","o":2,"x":0.203,"y":0.155},{"k":0.9,"n":0,"s":"b","o":3,"x":0.148,"y":0.173},{"k":0.9,"n":0,"s":"b","o":4,"x":0.094,"y":0.166},{"k":0.9,"n":0,"s":"b","o":5,"x":0.055,"y":0.147},{"k":0.9,"n":0,"s":"b","o":6,"x":0.016,"y":0.123},{"k":0.9,"n":0,"s":"b","o":7,"x":-0.023,"y":0.108},{"k":0.9,"n":0,"s":"b","o":8,"x":-0.078,"y":0.108},{"k":0.9,"n":0,"s":"b","o":9,"x":-0.148,"y":0.105},{"k":0.9,"n":0,"s":"b","o":10,"x":-0.219,"y":0.092},{"k":0.9,"n":0,"s":"b","o":11,"x":-0.266,"y":0.061},{"k":0.9,"n":0,"s":"b","o":12,"x":-0.297,"y":0.006},{"k":0.9,"n":0,"s":"b","o":13,"x":-0.305,"y":-0.056},{"k":0.9,"n":0,"s":"b","o":14,"x":-0.289,"y":-0.119},{"k":0.9,"n":0,"s":"b","o":15,"x":-0.25,"y":-0.173},{"k":0.9,"n":0,"s":"b","o":16,"x":-0.1875,"y":-0.2125},{"k":0.9,"n":0,"s":"b","o":17,"x":-0.125,"y":-0.22},{"k":0.9,"n":0,"s":"b","o":18,"x":-0.07,"y":-0.205},{"k":0.9,"n":0,"s":"b","o":19,"x":-0.023,"y":-0.173},{"k":0.9,"n":0,"s":"b","o":20,"x":0.016,"y":-0.134},{"k":0.9,"n":0,"s":"b","o":21,"x":0.047,"y":-0.103},{"k":0.9,"n":0,"s":"b","o":22,"x":0.094,"y":-0.0875},{"k":0.9,"n":0,"s":"b","o":23,"x":0.148,"y":-0.072},{"k":0.9,"n":0,"s":"b","o":24,"x":0.203,"y":-0.041},{"k":0.9,"n":0,"s":"b","o":25,"x":0.234,"y":-0.002},{"k":0.9,"n":0,"s":"b","o":26,"x":0.245,"y":0.053},
    {"k":0.9,"n":0,"s":"c","o":0,"x":0.133,"y":0.0375},{"k":0.9,"n":0,"s":"c","o":1,"x":0.125,"y":0.077},{"k":0.9,"n":0,"s":"c","o":2,"x":0.094,"y":0.108},{"k":0.9,"n":0,"s":"c","o":3,"x":0.047,"y":0.1125},{"k":0.9,"n":0,"s":"c","o":4,"x":0,"y":0.092},{"k":0.9,"n":0,"s":"c","o":5,"x":-0.047,"y":0.069},{"k":0.9,"n":0,"s":"c","o":6,"x":-0.094,"y":0.045},{"k":0.9,"n":0,"s":"c","o":7,"x":-0.125,"y":0.014},{"k":0.9,"n":0,"s":"c","o":8,"x":-0.136,"y":-0.041},{"k":0.9,"n":0,"s":"c","o":9,"x":-0.109,"y":-0.095},{"k":0.9,"n":0,"s":"c","o":10,"x":-0.055,"y":-0.119},{"k":0.9,"n":0,"s":"c","o":11,"x":-0.008,"y":-0.103},{"k":0.9,"n":0,"s":"c","o":12,"x":0.031,"y":-0.072},{"k":0.9,"n":0,"s":"c","o":13,"x":0.078,"y":-0.041},{"k":0.9,"n":0,"s":"c","o":14,"x":0.1125,"y":-0.009},{"k":0.9,"n":0,"s":"c","o":15,"x":0.133,"y":0.0375},

    {"k":0.9,"n":0.3,"s":"a","o":0,"x":0.402,"y":0.069},{"k":0.9,"n":0.3,"s":"a","o":1,"x":0.394,"y":0.131},{"k":0.9,"n":0.3,"s":"a","o":2,"x":0.3625,"y":0.194},{"k":0.9,"n":0.3,"s":"a","o":3,"x":0.316,"y":0.233},{"k":0.9,"n":0.3,"s":"a","o":4,"x":0.261,"y":0.248},{"k":0.9,"n":0.3,"s":"a","o":5,"x":0.198,"y":0.241},{"k":0.9,"n":0.3,"s":"a","o":6,"x":0.136,"y":0.217},{"k":0.9,"n":0.3,"s":"a","o":7,"x":0.081,"y":0.178},{"k":0.9,"n":0.3,"s":"a","o":8,"x":0.034,"y":0.139},{"k":0.9,"n":0.3,"s":"a","o":9,"x":0.003,"y":0.108},{"k":0.9,"n":0.3,"s":"a","o":10,"x":-0.02,"y":0.088},{"k":0.9,"n":0.3,"s":"a","o":11,"x":-0.035,"y":0.09},{"k":0.9,"n":0.3,"s":"a","o":12,"x":-0.052,"y":0.097},{"k":0.9,"n":0.3,"s":"a","o":13,"x":-0.106,"y":0.116},{"k":0.9,"n":0.3,"s":"a","o":14,"x":-0.177,"y":0.123},{"k":0.9,"n":0.3,"s":"a","o":15,"x":-0.247,"y":0.116},{"k":0.9,"n":0.3,"s":"a","o":16,"x":-0.317,"y":0.092},{"k":0.9,"n":0.3,"s":"a","o":17,"x":-0.38,"y":0.045},{"k":0.9,"n":0.3,"s":"a","o":18,"x":-0.419,"y":-0.009},{"k":0.9,"n":0.3,"s":"a","o":19,"x":-0.43,"y":-0.08},{"k":0.9,"n":0.3,"s":"a","o":20,"x":-0.411,"y":-0.15},{"k":0.9,"n":0.3,"s":"a","o":21,"x":-0.364,"y":-0.2125},{"k":0.9,"n":0.3,"s":"a","o":22,"x":-0.302,"y":-0.252},{"k":0.9,"n":0.3,"s":"a","o":23,"x":-0.223,"y":-0.267},{"k":0.9,"n":0.3,"s":"a","o":24,"x":-0.161,"y":-0.259},{"k":0.9,"n":0.3,"s":"a","o":25,"x":-0.098,"y":-0.236},{"k":0.9,"n":0.3,"s":"a","o":26,"x":-0.044,"y":-0.189},{"k":0.9,"n":0.3,"s":"a","o":27,"x":-0.005,"y":-0.142},{"k":0.9,"n":0.3,"s":"a","o":28,"x":0.027,"y":-0.111},{"k":0.9,"n":0.3,"s":"a","o":29,"x":0.042,"y":-0.103},{"k":0.9,"n":0.3,"s":"a","o":30,"x":0.066,"y":-0.106},{"k":0.9,"n":0.3,"s":"a","o":31,"x":0.12,"y":-0.122},{"k":0.9,"n":0.3,"s":"a","o":32,"x":0.183,"y":-0.127},{"k":0.9,"n":0.3,"s":"a","o":33,"x":0.261,"y":-0.111},{"k":0.9,"n":0.3,"s":"a","o":34,"x":0.331,"y":-0.072},{"k":0.9,"n":0.3,"s":"a","o":35,"x":0.378,"y":-0.025},{"k":0.9,"n":0.3,"s":"a","o":36,"x":0.398,"y":0.022},{"k":0.9,"n":0.3,"s":"a","o":37,"x":0.402,"y":0.069},
    {"k":0.9,"n":0.3,"s":"b","o":0,"x":0.23,"y":0.061},{"k":0.9,"n":0.3,"s":"b","o":1,"x":0.227,"y":0.108},{"k":0.9,"n":0.3,"s":"b","o":2,"x":0.198,"y":0.139},{"k":0.9,"n":0.3,"s":"b","o":3,"x":0.152,"y":0.159},{"k":0.9,"n":0.3,"s":"b","o":4,"x":0.097,"y":0.155},{"k":0.9,"n":0.3,"s":"b","o":5,"x":0.05,"y":0.131},{"k":0.9,"n":0.3,"s":"b","o":6,"x":0.011,"y":0.092},{"k":0.9,"n":0.3,"s":"b","o":7,"x":-0.02,"y":0.077},{"k":0.9,"n":0.3,"s":"b","o":8,"x":-0.067,"y":0.077},{"k":0.9,"n":0.3,"s":"b","o":9,"x":-0.122,"y":0.072},{"k":0.9,"n":0.3,"s":"b","o":10,"x":-0.177,"y":0.061},{"k":0.9,"n":0.3,"s":"b","o":11,"x":-0.223,"y":0.03},{"k":0.9,"n":0.3,"s":"b","o":12,"x":-0.239,"y":-0.025},{"k":0.9,"n":0.3,"s":"b","o":13,"x":-0.231,"y":-0.08},{"k":0.9,"n":0.3,"s":"b","o":14,"x":-0.192,"y":-0.134},{"k":0.9,"n":0.3,"s":"b","o":15,"x":-0.1375,"y":-0.161},{"k":0.9,"n":0.3,"s":"b","o":16,"x":-0.083,"y":-0.158},{"k":0.9,"n":0.3,"s":"b","o":17,"x":-0.036,"y":-0.134},{"k":0.9,"n":0.3,"s":"b","o":18,"x":0.003,"y":-0.095},{"k":0.9,"n":0.3,"s":"b","o":19,"x":0.042,"y":-0.064},{"k":0.9,"n":0.3,"s":"b","o":20,"x":0.097,"y":-0.072},{"k":0.9,"n":0.3,"s":"b","o":21,"x":0.152,"y":-0.072},{"k":0.9,"n":0.3,"s":"b","o":22,"x":0.198,"y":-0.048},{"k":0.9,"n":0.3,"s":"b","o":23,"x":0.22,"y":-0.009},{"k":0.9,"n":0.3,"s":"b","o":24,"x":0.23,"y":0.061},
    {"k":0.9,"n":0.3,"s":"c","o":0,"x":0.102,"y":0.03},{"k":0.9,"n":0.3,"s":"c","o":1,"x":0.097,"y":0.061},{"k":0.9,"n":0.3,"s":"c","o":2,"x":0.073,"y":0.081},{"k":0.9,"n":0.3,"s":"c","o":3,"x":0.034,"y":0.081},{"k":0.9,"n":0.3,"s":"c","o":4,"x":0.003,"y":0.061},{"k":0.9,"n":0.3,"s":"c","o":5,"x":-0.044,"y":0.0375},{"k":0.9,"n":0.3,"s":"c","o":6,"x":-0.086,"y":0.009},{"k":0.9,"n":0.3,"s":"c","o":7,"x":-0.102,"y":-0.025},{"k":0.9,"n":0.3,"s":"c","o":8,"x":-0.083,"y":-0.072},{"k":0.9,"n":0.3,"s":"c","o":9,"x":-0.044,"y":-0.0875},{"k":0.9,"n":0.3,"s":"c","o":10,"x":-0.005,"y":-0.069},{"k":0.9,"n":0.3,"s":"c","o":11,"x":0.027,"y":-0.041},{"k":0.9,"n":0.3,"s":"c","o":12,"x":0.066,"y":-0.025},{"k":0.9,"n":0.3,"s":"c","o":13,"x":0.089,"y":-0.002},{"k":0.9,"n":0.3,"s":"c","o":14,"x":0.102,"y":0.03},

    {"k":0.9,"n":0.5,"s":"a","o":0,"x":0.405,"y":0.069},{"k":0.9,"n":0.5,"s":"a","o":1,"x":0.397,"y":0.131},{"k":0.9,"n":0.5,"s":"a","o":2,"x":0.366,"y":0.194},{"k":0.9,"n":0.5,"s":"a","o":3,"x":0.319,"y":0.233},{"k":0.9,"n":0.5,"s":"a","o":4,"x":0.264,"y":0.248},{"k":0.9,"n":0.5,"s":"a","o":5,"x":0.202,"y":0.241},{"k":0.9,"n":0.5,"s":"a","o":6,"x":0.139,"y":0.214},{"k":0.9,"n":0.5,"s":"a","o":7,"x":0.084,"y":0.178},{"k":0.9,"n":0.5,"s":"a","o":8,"x":0.0375,"y":0.131},{"k":0.9,"n":0.5,"s":"a","o":9,"x":0.006,"y":0.1},{"k":0.9,"n":0.5,"s":"a","o":10,"x":-0.017,"y":0.084},{"k":0.9,"n":0.5,"s":"a","o":11,"x":-0.041,"y":0.092},{"k":0.9,"n":0.5,"s":"a","o":12,"x":-0.0875,"y":0.1125},{"k":0.9,"n":0.5,"s":"a","o":13,"x":-0.158,"y":0.123},{"k":0.9,"n":0.5,"s":"a","o":14,"x":-0.228,"y":0.1125},{"k":0.9,"n":0.5,"s":"a","o":15,"x":-0.306,"y":0.084},{"k":0.9,"n":0.5,"s":"a","o":16,"x":-0.369,"y":0.0375},{"k":0.9,"n":0.5,"s":"a","o":17,"x":-0.4,"y":-0.025},{"k":0.9,"n":0.5,"s":"a","o":18,"x":-0.397,"y":-0.095},{"k":0.9,"n":0.5,"s":"a","o":19,"x":-0.369,"y":-0.166},{"k":0.9,"n":0.5,"s":"a","o":20,"x":-0.306,"y":-0.22},{"k":0.9,"n":0.5,"s":"a","o":21,"x":-0.228,"y":-0.244},{"k":0.9,"n":0.5,"s":"a","o":22,"x":-0.158,"y":-0.244},{"k":0.9,"n":0.5,"s":"a","o":23,"x":-0.0875,"y":-0.22},{"k":0.9,"n":0.5,"s":"a","o":24,"x":-0.033,"y":-0.166},{"k":0.9,"n":0.5,"s":"a","o":25,"x":-0.002,"y":-0.119},{"k":0.9,"n":0.5,"s":"a","o":26,"x":0.022,"y":-0.095},{"k":0.9,"n":0.5,"s":"a","o":27,"x":0.045,"y":-0.084},{"k":0.9,"n":0.5,"s":"a","o":28,"x":0.084,"y":-0.095},{"k":0.9,"n":0.5,"s":"a","o":29,"x":0.147,"y":-0.111},{"k":0.9,"n":0.5,"s":"a","o":30,"x":0.225,"y":-0.111},{"k":0.9,"n":0.5,"s":"a","o":31,"x":0.303,"y":-0.084},{"k":0.9,"n":0.5,"s":"a","o":32,"x":0.366,"y":-0.041},{"k":0.9,"n":0.5,"s":"a","o":33,"x":0.397,"y":0.014},{"k":0.9,"n":0.5,"s":"a","o":34,"x":0.405,"y":0.069},
    {"k":0.9,"n":0.5,"s":"b","o":0,"x":0.225,"y":0.0375},{"k":0.9,"n":0.5,"s":"b","o":1,"x":0.222,"y":0.084},{"k":0.9,"n":0.5,"s":"b","o":2,"x":0.194,"y":0.127},{"k":0.9,"n":0.5,"s":"b","o":3,"x":0.147,"y":0.147},{"k":0.9,"n":0.5,"s":"b","o":4,"x":0.092,"y":0.142},{"k":0.9,"n":0.5,"s":"b","o":5,"x":0.045,"y":0.116},{"k":0.9,"n":0.5,"s":"b","o":6,"x":0.014,"y":0.084},{"k":0.9,"n":0.5,"s":"b","o":7,"x":-0.017,"y":0.072},{"k":0.9,"n":0.5,"s":"b","o":8,"x":-0.064,"y":0.069},{"k":0.9,"n":0.5,"s":"b","o":9,"x":-0.119,"y":0.061},{"k":0.9,"n":0.5,"s":"b","o":10,"x":-0.173,"y":0.0375},{"k":0.9,"n":0.5,"s":"b","o":11,"x":-0.2125,"y":-0.009},{"k":0.9,"n":0.5,"s":"b","o":12,"x":-0.2125,"y":-0.064},{"k":0.9,"n":0.5,"s":"b","o":13,"x":-0.181,"y":-0.119},{"k":0.9,"n":0.5,"s":"b","o":14,"x":-0.127,"y":-0.147},{"k":0.9,"n":0.5,"s":"b","o":15,"x":-0.072,"y":-0.142},{"k":0.9,"n":0.5,"s":"b","o":16,"x":-0.033,"y":-0.119},{"k":0.9,"n":0.5,"s":"b","o":17,"x":-0.002,"y":-0.084},{"k":0.9,"n":0.5,"s":"b","o":18,"x":0.03,"y":-0.056},{"k":0.9,"n":0.5,"s":"b","o":19,"x":0.069,"y":-0.064},{"k":0.9,"n":0.5,"s":"b","o":20,"x":0.123,"y":-0.069},{"k":0.9,"n":0.5,"s":"b","o":21,"x":0.178,"y":-0.048},{"k":0.9,"n":0.5,"s":"b","o":22,"x":0.213,"y":-0.009},{"k":0.9,"n":0.5,"s":"b","o":23,"x":0.225,"y":0.0375},
    {"k":0.9,"n":0.5,"s":"c","o":0,"x":0.084,"y":0.03},{"k":0.9,"n":0.5,"s":"c","o":1,"x":0.08,"y":0.053},{"k":0.9,"n":0.5,"s":"c","o":2,"x":0.058,"y":0.069},{"k":0.9,"n":0.5,"s":"c","o":3,"x":0.022,"y":0.066},{"k":0.9,"n":0.5,"s":"c","o":4,"x":-0.009,"y":0.048},{"k":0.9,"n":0.5,"s":"c","o":5,"x":-0.048,"y":0.03},{"k":0.9,"n":0.5,"s":"c","o":6,"x":-0.08,"y":0.006},{"k":0.9,"n":0.5,"s":"c","o":7,"x":-0.083,"y":-0.025},{"k":0.9,"n":0.5,"s":"c","o":8,"x":-0.064,"y":-0.056},{"k":0.9,"n":0.5,"s":"c","o":9,"x":-0.033,"y":-0.064},{"k":0.9,"n":0.5,"s":"c","o":10,"x":-0.002,"y":-0.048},{"k":0.9,"n":0.5,"s":"c","o":11,"x":0.03,"y":-0.033},{"k":0.9,"n":0.5,"s":"c","o":12,"x":0.061,"y":-0.017},{"k":0.9,"n":0.5,"s":"c","o":13,"x":0.08,"y":0.006},{"k":0.9,"n":0.5,"s":"c","o":14,"x":0.084,"y":0.03},

    {"k":0,"n":0,"t":"L","s":"a","txt":"= 0.21"},{"k":0,"n":0,"t":"L","s":"b","txt":"= 0.31"},{"k":0,"n":0,"t":"L","s":"c","txt":"= 0.44"},
    {"k":0,"n":0.3,"t":"L","s":"a","txt":"= 0.13"},{"k":0,"n":0.3,"t":"L","s":"b","txt":"= 0.23"},{"k":0,"n":0.3,"t":"L","s":"c","txt":"= 0.31"},
    {"k":0,"n":0.5,"t":"L","s":"a","txt":"= 0.12"},{"k":0,"n":0.5,"t":"L","s":"b","txt":"= 0.18"},{"k":0,"n":0.5,"t":"L","s":"c","txt":"= 0.23"},
    {"k":0.5,"n":0,"t":"L","s":"a","txt":"= 0.33"},{"k":0.5,"n":0,"t":"L","s":"b","txt":"= 0.32"},{"k":0.5,"n":0,"t":"L","s":"c","txt":"= 0.37"},
    {"k":0.5,"n":0.3,"t":"L","s":"a","txt":"= 0.24"},{"k":0.5,"n":0.3,"t":"L","s":"b","txt":"= 0.24"},{"k":0.5,"n":0.3,"t":"L","s":"c","txt":"= 0.26"},
    {"k":0.5,"n":0.5,"t":"L","s":"a","txt":"= 0.22"},{"k":0.5,"n":0.5,"t":"L","s":"b","txt":"= 0.2"},{"k":0.5,"n":0.5,"t":"L","s":"c","txt":"= 0.19"},
    {"k":0.9,"n":0,"t":"L","s":"a","txt":"= 0.43"},{"k":0.9,"n":0,"t":"L","s":"b","txt":"= 0.26"},{"k":0.9,"n":0,"t":"L","s":"c","txt":"= 0.15"},
    {"k":0.9,"n":0.3,"t":"L","s":"a","txt":"= 0.42"},{"k":0.9,"n":0.3,"t":"L","s":"b","txt":"= 0.24"},{"k":0.9,"n":0.3,"t":"L","s":"c","txt":"= 0.11"},
    {"k":0.9,"n":0.5,"t":"L","s":"a","txt":"= 0.42"},{"k":0.9,"n":0.5,"t":"L","s":"b","txt":"= 0.23"},{"k":0.9,"n":0.5,"t":"L","s":"c","txt":"= 0.09"},
    {"k":0,"n":0,"t":"K","txt":"= 0"},{"k":0.5,"n":0,"t":"K","txt":"= 0.5"},{"k":0.9,"n":0,"t":"K","txt":"= 0.9"},
    {"k":0,"n":0,"t":"N","txt":"\u03bd = 0"},{"k":0,"n":0.3,"t":"N","txt":"\u03bd = 0.3"},{"k":0,"n":0.5,"t":"N","txt":"\u03bd = 0.5"}
  ]},
  "facet": {
    "row": {"field": "k", "type": "ordinal", "header": null, "title": null},
    "column": {"field": "n", "type": "ordinal", "header": null, "title": null}
  },
  "spacing": {"row": 13, "column": 20},
  "resolve": {"axis": {"x": "independent", "y": "independent"}},
  "spec": {
    "width": 278,
    "height": 277,
    "resolve": {"axis": {"x": "independent", "y": "independent"}},
    "layer": [
      {
        "transform": [{"filter": "datum.t == 'L' && datum.s == 'a'"}],
        "mark": {"type": "rule", "color": "#666", "strokeWidth": 1.3},
        "encoding": {
          "x": {"datum": 0, "type": "quantitative", "scale": {"domain": [-0.65, 0.65], "nice": false, "zero": false},
            "axis": {"orient": "top", "title": null, "labels": false, "minExtent": 0, "values": [-0.6,-0.55,-0.5,-0.45,-0.4,-0.35,-0.3,-0.25,-0.2,-0.15,-0.1,-0.05,0,0.05,0.1,0.15,0.2,0.25,0.3,0.35,0.4,0.45,0.5,0.55,0.6],
              "tickSize": {"condition": {"test": "round(datum.value*100) % 20 == 0", "value": -6}, "value": -3}}}
        }
      },
      {
        "transform": [{"filter": "datum.t == 'L' && datum.s == 'a'"}],
        "mark": {"type": "rule", "color": "#000", "strokeWidth": 1},
        "encoding": {
          "y": {"datum": 0, "type": "quantitative", "scale": {"domain": [-0.65, 0.65], "nice": false, "zero": false},
            "axis": {"orient": "right", "title": null, "labels": false, "minExtent": 0, "values": [-0.6,-0.55,-0.5,-0.45,-0.4,-0.35,-0.3,-0.25,-0.2,-0.15,-0.1,-0.05,0,0.05,0.1,0.15,0.2,0.25,0.3,0.35,0.4,0.45,0.5,0.55,0.6],
              "tickSize": {"condition": {"test": "round(datum.value*100) % 20 == 0", "value": -6}, "value": -3}}}
        }
      },
      {
        "transform": [{"filter": "datum.t == 'L' && datum.s == 'a'"}],
        "mark": {"type": "rule", "color": "#000", "strokeWidth": 3},
        "encoding": {
          "x": {"datum": -0.65, "type": "quantitative", "axis": null},
          "x2": {"datum": 0},
          "y": {"datum": 0, "type": "quantitative", "axis": null}
        }
      },
      {
        "transform": [{"filter": "isValid(datum.o)"}],
        "mark": {"type": "line", "strokeWidth": 2, "interpolate": "catmull-rom"},
        "encoding": {
          "x": {"field": "x", "type": "quantitative", "scale": {"domain": [-0.65, 0.65], "nice": false, "zero": false},
            "axis": {"orient": "bottom", "title": null, "format": ".1f", "labelOverlap": false, "labelFlush": false, "labelPadding": 14,
              "values": [-0.6,-0.55,-0.5,-0.45,-0.4,-0.35,-0.3,-0.25,-0.2,-0.15,-0.1,-0.05,0,0.05,0.1,0.15,0.2,0.25,0.3,0.35,0.4,0.45,0.5,0.55,0.6],
              "labelExpr": "round(datum.value*100) % 20 == 0 ? datum.label : ''",
              "tickSize": {"condition": {"test": "round(datum.value*100) % 20 == 0", "value": -6}, "value": -3}}},
          "y": {"field": "y", "type": "quantitative", "scale": {"domain": [-0.65, 0.65], "nice": false, "zero": false},
            "axis": {"orient": "left", "title": null, "format": ".1f", "labelOverlap": false, "labelFlush": false, "labelPadding": 12,
              "values": [-0.6,-0.55,-0.5,-0.45,-0.4,-0.35,-0.3,-0.25,-0.2,-0.15,-0.1,-0.05,0,0.05,0.1,0.15,0.2,0.25,0.3,0.35,0.4,0.45,0.5,0.55,0.6],
              "labelExpr": "round(datum.value*100) % 20 == 0 ? datum.label : ''",
              "tickSize": {"condition": {"test": "round(datum.value*100) % 20 == 0", "value": -6}, "value": -3}}},
          "order": {"field": "o", "type": "quantitative"},
          "color": {"field": "s", "type": "nominal", "scale": {"domain": ["a", "b", "c"], "range": ["#0000ff", "#ff0000", "#000000"]},
            "legend": {"orient": "none", "legendX": 146, "legendY": 946, "direction": "horizontal", "title": null, "symbolType": "stroke", "symbolSize": 2304, "symbolStrokeWidth": 2, "labelFontSize": 17, "labelOffset": 8, "columnPadding": 17,
              "labelExpr": "datum.label == 'a' ? 'p\u0303\u2080 = 0' : datum.label == 'b' ? 'p\u0303\u2080 = 0.5 \u03c0(1 \u2212 \u03bd)' : 'p\u0303\u2080 = 0.9 \u03c0(1 \u2212 \u03bd)'"}},
          "strokeDash": {"field": "s", "type": "nominal", "scale": {"domain": ["a", "b", "c"], "range": [[1, 0], [7, 3], [2.2, 3.4]]},
            "legend": {"orient": "none", "legendX": 146, "legendY": 946, "direction": "horizontal", "title": null, "symbolType": "stroke", "symbolSize": 2304, "symbolStrokeWidth": 2, "labelFontSize": 17, "labelOffset": 8, "columnPadding": 17,
              "labelExpr": "datum.label == 'a' ? 'p\u0303\u2080 = 0' : datum.label == 'b' ? 'p\u0303\u2080 = 0.5 \u03c0(1 \u2212 \u03bd)' : 'p\u0303\u2080 = 0.9 \u03c0(1 \u2212 \u03bd)'"}}
        }
      },
      {
        "transform": [{"filter": "datum.t == 'L' && datum.s == 'a'"}],
        "mark": {"type": "rect", "fill": "white", "stroke": "#222", "strokeWidth": 1},
        "encoding": {
          "x": {"datum": 0.07, "type": "quantitative", "axis": null},
          "x2": {"datum": 0.632},
          "y": {"datum": -0.285, "type": "quantitative", "axis": null},
          "y2": {"datum": -0.622}
        }
      },
      {
        "transform": [{"filter": "datum.t == 'L' && datum.s == 'a'"}],
        "mark": {"type": "rule", "strokeWidth": 2},
        "encoding": {
          "x": {"datum": 0.093, "type": "quantitative", "axis": null},
          "x2": {"datum": 0.173},
          "y": {"datum": -0.346, "type": "quantitative", "axis": null},
          "color": {"field": "s", "type": "nominal"},
          "strokeDash": {"field": "s", "type": "nominal"}
        }
      },
      {
        "transform": [{"filter": "datum.t == 'L' && datum.s == 'b'"}],
        "mark": {"type": "rule", "strokeWidth": 2},
        "encoding": {
          "x": {"datum": 0.093, "type": "quantitative", "axis": null},
          "x2": {"datum": 0.173},
          "y": {"datum": -0.454, "type": "quantitative", "axis": null},
          "color": {"field": "s", "type": "nominal"},
          "strokeDash": {"field": "s", "type": "nominal"}
        }
      },
      {
        "transform": [{"filter": "datum.t == 'L' && datum.s == 'c'"}],
        "mark": {"type": "rule", "strokeWidth": 2},
        "encoding": {
          "x": {"datum": 0.093, "type": "quantitative", "axis": null},
          "x2": {"datum": 0.173},
          "y": {"datum": -0.562, "type": "quantitative", "axis": null},
          "color": {"field": "s", "type": "nominal"},
          "strokeDash": {"field": "s", "type": "nominal"}
        }
      },
      {
        "transform": [{"filter": "datum.t == 'L'"}],
        "mark": {"type": "text", "text": "r\u0302", "fontStyle": "italic", "fontSize": 17, "align": "left", "baseline": "middle",
          "dy": {"expr": "datum.s == 'a' ? 0 : datum.s == 'b' ? 23 : 46"}},
        "encoding": {
          "x": {"datum": 0.19, "type": "quantitative", "axis": null},
          "y": {"datum": -0.356, "type": "quantitative", "axis": null}
        }
      },
      {
        "transform": [{"filter": "datum.t == 'L'"}],
        "mark": {"type": "text", "text": "max", "fontSize": 10.5, "align": "left", "baseline": "middle",
          "dy": {"expr": "(datum.s == 'a' ? 0 : datum.s == 'b' ? 23 : 46) - 8"}},
        "encoding": {
          "x": {"datum": 0.252, "type": "quantitative", "axis": null},
          "y": {"datum": -0.356, "type": "quantitative", "axis": null}
        }
      },
      {
        "transform": [{"filter": "datum.t == 'L'"}],
        "mark": {"type": "text", "text": "b", "fontStyle": "italic", "fontSize": 11.5, "align": "left", "baseline": "middle",
          "dy": {"expr": "(datum.s == 'a' ? 0 : datum.s == 'b' ? 23 : 46) + 7"}},
        "encoding": {
          "x": {"datum": 0.252, "type": "quantitative", "axis": null},
          "y": {"datum": -0.356, "type": "quantitative", "axis": null}
        }
      },
      {
        "transform": [{"filter": "datum.t == 'L'"}],
        "mark": {"type": "text", "fontSize": 17, "align": "left", "baseline": "middle",
          "dy": {"expr": "datum.s == 'a' ? 0 : datum.s == 'b' ? 23 : 46"}},
        "encoding": {
          "x": {"datum": 0.382, "type": "quantitative", "axis": null},
          "y": {"datum": -0.356, "type": "quantitative", "axis": null},
          "text": {"field": "txt"}
        }
      },
      {
        "transform": [{"filter": "datum.t == 'K'"}],
        "mark": {"type": "text", "text": "K\u0302", "fontStyle": "italic", "fontSize": 21, "align": "left", "baseline": "alphabetic"},
        "encoding": {
          "x": {"datum": -0.607, "type": "quantitative", "axis": null},
          "y": {"datum": 0.536, "type": "quantitative", "axis": null}
        }
      },
      {
        "transform": [{"filter": "datum.t == 'K'"}],
        "mark": {"type": "text", "text": "I\u2009I", "fontStyle": "italic", "fontSize": 16, "align": "left", "baseline": "alphabetic", "dy": 4},
        "encoding": {
          "x": {"datum": -0.54, "type": "quantitative", "axis": null},
          "y": {"datum": 0.536, "type": "quantitative", "axis": null}
        }
      },
      {
        "transform": [{"filter": "datum.t == 'K'"}],
        "mark": {"type": "text", "fontSize": 21, "align": "left", "baseline": "alphabetic"},
        "encoding": {
          "x": {"datum": -0.43, "type": "quantitative", "axis": null},
          "y": {"datum": 0.536, "type": "quantitative", "axis": null},
          "text": {"field": "txt"}
        }
      },
      {
        "transform": [{"filter": "datum.t == 'N'"}],
        "mark": {"type": "text", "fontSize": 21, "align": "right", "baseline": "alphabetic"},
        "encoding": {
          "x": {"datum": 0.593, "type": "quantitative", "axis": null},
          "y": {"datum": 0.536, "type": "quantitative", "axis": null},
          "text": {"field": "txt"}
        }
      }
    ]
  }
}
